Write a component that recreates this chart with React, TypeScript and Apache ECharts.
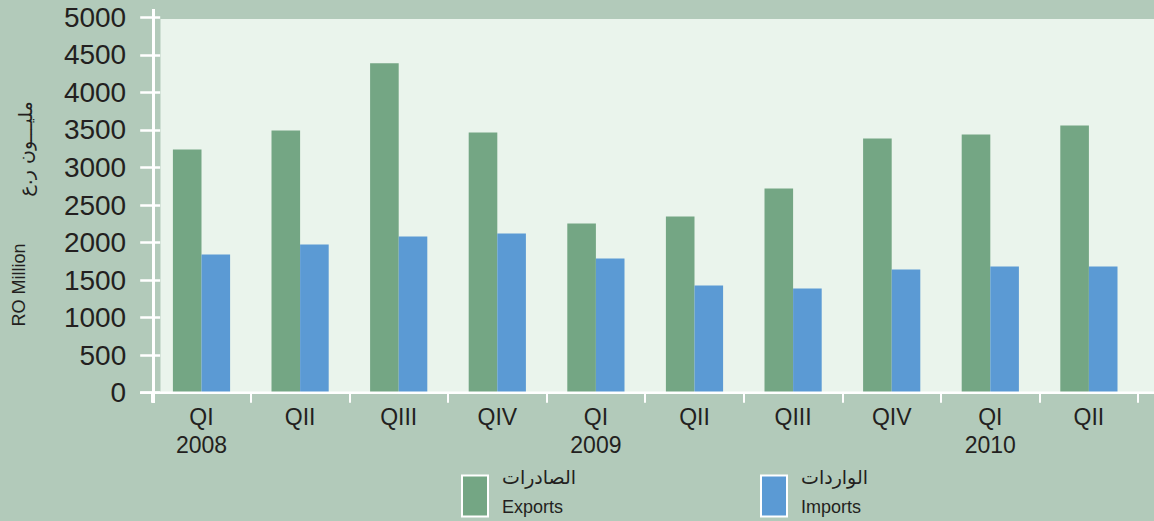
import React, { useEffect, useRef } from "react";
import * as echarts from "echarts";

const categories = ["QI\n2008", "QII", "QIII", "QIV", "QI\n2009", "QII", "QIII", "QIV", "QI\n2010", "QII"];
const exportsValues = [3240, 3493, 4387, 3467, 2253, 2347, 2720, 3387, 3440, 3560];
const importsValues = [1840, 1973, 2080, 2120, 1787, 1427, 1387, 1640, 1680, 1680];
const yTicks = { min: 0, max: 5000, interval: 500 };

const GREEN = "#74A684";
const BLUE = "#5B9AD4";
const PLOT_BG = "#EAF4EC";
const OUTER_BG = "#B2CABA";
const TEXT = "#231F20";
const SANS = "'Liberation Sans', Arial, sans-serif";

export default function App() {
  const ref = useRef<HTMLDivElement>(null);
  useEffect(() => {
    if (!ref.current) return;
    const chart = echarts.init(ref.current, null, { renderer: "svg" });
    const legendCommon = {
      orient: "horizontal",
      itemWidth: 26,
      itemHeight: 41,
      icon: "rect",
      itemStyle: { borderColor: "#ffffff", borderWidth: 2 },
      textStyle: {
        padding: [0, 0, 9, 9],
        rich: {
          ar: { fontFamily: "'DejaVu Sans', sans-serif", fontSize: 19, color: TEXT, lineHeight: 30 },
          en: { fontFamily: SANS, fontSize: 18, color: TEXT, lineHeight: 30 },
        },
      },
    };
    chart.setOption({
      animation: false,
      backgroundColor: OUTER_BG,
      grid: { left: 152.2, right: 15.8, top: 17.3, bottom: 128.3, containLabel: false },
      legend: [
        {
          ...legendCommon,
          left: 456,
          top: 462,
          data: ["Exports"],
          formatter: () => "{ar|الصادرات}\n{en|Exports}",
        },
        {
          ...legendCommon,
          left: 755,
          top: 462,
          data: ["Imports"],
          formatter: () => "{ar|الواردات}\n{en|Imports}",
        },
      ],
      xAxis: {
        type: "category",
        data: categories,
        axisLine: { show: false },
        axisTick: { show: true, length: 10, lineStyle: { color: "#ffffff", width: 2 }, interval: 0 },
        axisLabel: {
          interval: 0,
          margin: 10,
          fontFamily: SANS,
          fontSize: 23,
          lineHeight: 28,
          color: TEXT,
        },
        splitLine: { show: false },
      },
      yAxis: [
        {
          type: "value",
          min: yTicks.min,
          max: yTicks.max,
          interval: yTicks.interval,
          axisLine: { show: false },
          axisTick: { show: true, length: 12, lineStyle: { color: "#ffffff", width: 2.5 } },
          axisLabel: {
            margin: 26,
            fontFamily: SANS,
            fontSize: 28,
            color: TEXT,
            formatter: (v: number) => String(v),
          },
          splitLine: { show: false },
        },
        {
          type: "value",
          position: "left",
          min: yTicks.min,
          max: yTicks.max,
          interval: yTicks.interval,
          axisLine: { show: false },
          axisTick: { show: true, inside: true, length: 8, lineStyle: { color: "#ffffff", width: 2.5 } },
          axisLabel: { show: false },
          splitLine: { show: false },
        },
      ],
      series: [
        {
          name: "Exports",
          type: "bar",
          data: exportsValues,
          barWidth: 28.6,
          barGap: "0%",
          itemStyle: { color: GREEN },
        },
        {
          name: "Imports",
          type: "bar",
          data: importsValues,
          barWidth: 28.6,
          barGap: "0%",
          itemStyle: { color: BLUE },
        },
      ],
      graphic: [
        {
          type: "rect",
          z: -10,
          shape: { x: 160.5, y: 19, width: 1000, height: 374 },
          style: { fill: PLOT_BG },
          silent: true,
        },
        {
          type: "line",
          z: 10,
          shape: { x1: 153.5, y1: 9, x2: 153.5, y2: 403 },
          style: { stroke: "#ffffff", lineWidth: 3 },
          silent: true,
        },
        {
          type: "line",
          z: 10,
          shape: { x1: 140, y1: 392.7, x2: 1154, y2: 392.7 },
          style: { stroke: "#ffffff", lineWidth: 2.5 },
          silent: true,
        },
        {
          type: "text",
          x: 19,
          y: 285,
          rotation: Math.PI / 2,
          style: {
            text: "RO Million",
            fontFamily: SANS,
            fontSize: 18,
            fill: TEXT,
            align: "center",
            verticalAlign: "middle",
          },
          silent: true,
        },
        {
          type: "text",
          x: 25,
          y: 149,
          rotation: Math.PI / 2,
          style: {
            text: "مليـــون ر.ع",
            fontFamily: "'DejaVu Sans', sans-serif",
            fontSize: 19,
            fill: TEXT,
            align: "center",
            verticalAlign: "middle",
          },
          silent: true,
        },
      ],
    });
    return () => chart.dispose();
  }, []);
  return (
    <div
      ref={ref}
      style={{ position: "fixed", left: 0, top: 0, width: 1154, height: 521 }}
    />
  );
}
